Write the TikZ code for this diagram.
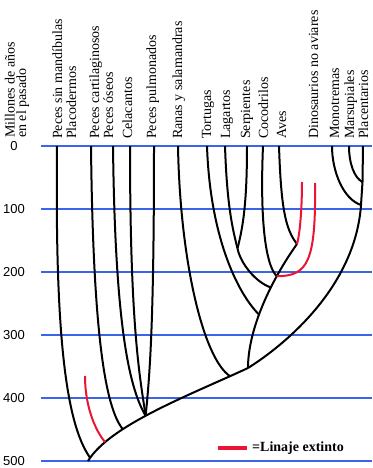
\documentclass[tikz,border=0pt]{standalone}
\usepackage{fontspec}
\setmainfont{Liberation Serif}
\newfontfamily\axisfont{Liberation Sans}
\definecolor{gridblue}{RGB}{60,100,235}
\definecolor{extred}{RGB}{235,20,50}
\begin{document}
\begin{tikzpicture}[x=1pt,y=-1pt,
  gridline/.style={draw=gridblue,line width=1.5pt},
  branch/.style={draw=black,line width=2pt},
  extinct/.style={draw=extred,line width=2pt},
  taxon/.style={rotate=90,anchor=base west,inner sep=0pt,font=\fontsize{14}{16}\selectfont},
  tick/.style={font=\axisfont\fontsize{13}{15}\selectfont,inner sep=0pt}]
\useasboundingbox[fill=white] (0,0) rectangle (372,468);

% time grid
\foreach \v/\yy in {0/146,100/209,200/272,300/335,400/398,500/461}{
  \draw[gridline] (41,\yy) -- (372,\yy);
  \node[tick] (t\v) at (14,\yy) {\v};
}

% axis title
\node[taxon] (ttlA) at (14.5,138) {Millones de años};
\node[taxon] (ttlB) at (26,138) {en el pasado};

% taxon labels
\node[taxon] (lagn) at (62,139) {Peces sin mandíbulas};
\node[taxon] (lplc) at (76,139) {Placodermos};
\node[taxon] (lcht) at (99,139) {Peces cartilaginosos};
\node[taxon] (lost) at (113,139) {Peces óseos};
\node[taxon] (lcel) at (132,139) {Celacantos};
\node[taxon] (ldip) at (156,139) {Peces pulmonados};
\node[taxon] (lamp) at (182,139) {Ranas y salamandras};
\node[taxon] (ltes) at (211,139) {Tortugas};
\node[taxon] (llac) at (230,139) {Lagartos};
\node[taxon] (lser) at (250,139) {Serpientes};
\node[taxon] (lcro) at (268,139) {Cocodrilos};
\node[taxon] (lave) at (286,139) {Aves};
\node[taxon] (ldin) at (318,139) {Dinosaurios no aviares};
\node[taxon] (lmon) at (339,139) {Monotremas};
\node[taxon] (lmar) at (354,139) {Marsupiales};
\node[taxon] (lpla) at (368,139) {Placentarios};

% tips
\coordinate (agn) at (57,146);
\coordinate (plc) at (85,376);
\coordinate (cht) at (91,146);
\coordinate (ost) at (113,146);
\coordinate (cel) at (130,146);
\coordinate (dip) at (154,146);
\coordinate (amp) at (178,146);
\coordinate (tes) at (207,146);
\coordinate (lac) at (225,146);
\coordinate (ser) at (247,146);
\coordinate (cro) at (263,146);
\coordinate (ave) at (279,146);
\coordinate (dnA) at (302,182);
\coordinate (dnB) at (315,183);
\coordinate (mon) at (332,146);
\coordinate (mar) at (349,146);
\coordinate (pla) at (363,146);

% internal nodes
\coordinate (root) at (88,461);
\coordinate (amn) at (248,368);
\coordinate (mam) at (361,205);
\coordinate (the) at (362.5,182);
\coordinate (avn) at (297,244);
\coordinate (lep) at (237.5,248.5);

% backbone
\draw[branch] (root) .. controls (110,425) and (190,395) .. (amn)
  coordinate[pos=0.03] (jag) coordinate[pos=0.18] (jpl)
  coordinate[pos=0.31] (jch) coordinate[pos=0.45] (jos)
  coordinate[pos=0.9] (jam);
\draw[branch] (amn) .. controls (280,348) and (355,290) .. (mam);
\draw[branch] (mam) -- (the) -- (pla);
\draw[branch] (mar) .. controls +(0,18) and +(-8,-4) .. (the);
\draw[branch] (mon) .. controls +(0,25) and +(-18,-6) .. (mam);

% sauropsids
\draw[branch] (amn) .. controls +(0,-40) and +(-25,35) .. (avn)
  coordinate[pos=0.42] (jte) coordinate[pos=0.63] (jle)
  coordinate[pos=0.72] (jcr);
\draw[branch] (tes) .. controls +(3,90) and +(-22,-22) .. (jte);
\draw[branch] (lac) .. controls +(2,60) and +(-5,-20) .. (lep);
\draw[branch] (ser) .. controls +(0,60) and +(5,-20) .. (lep);
\draw[branch] (lep) .. controls +(3,15) and +(-15,-5) .. (jle);
\draw[branch] (cro) .. controls +(-3,70) and +(-12,-12) .. (jcr);
\draw[branch] (ave) .. controls +(2,60) and +(-12,-15) .. (avn);
\draw[extinct] (dnA) .. controls +(0,25) and +(3,-10) .. (avn);
\draw[extinct] (dnB) .. controls +(1,79) and +(31,0) .. (jcr);

% amphibians
\draw[branch] (amp) .. controls +(2,114) and +(-27,-18) .. (jam);

% fishes
\draw[branch] (agn) .. controls +(-2,184) and +(-25,-35) .. (jag);
\draw[extinct] (plc) .. controls +(0,30) and +(-10,-12) .. (jpl);
\draw[branch] (cht) .. controls +(2,184) and +(-18,-22) .. (jch);
\draw[branch] (ost) .. controls +(2,170) and +(-18,-30) .. (jos);
\draw[branch] (cel) .. controls +(0,180) and +(-6,-40) .. (jos);
\draw[branch] (dip) .. controls +(0,180) and +(4,-40) .. (jos);

% legend
\coordinate (lgA) at (218,448);
\coordinate (lgB) at (247,448);
\draw[draw=extred,line width=4pt] (lgA) -- (lgB);
\node[anchor=base west,inner sep=0pt,font=\bfseries\fontsize{14}{16}\selectfont] (lgt) at (252,451) {=Linaje extinto};
\end{tikzpicture}
\end{document}
